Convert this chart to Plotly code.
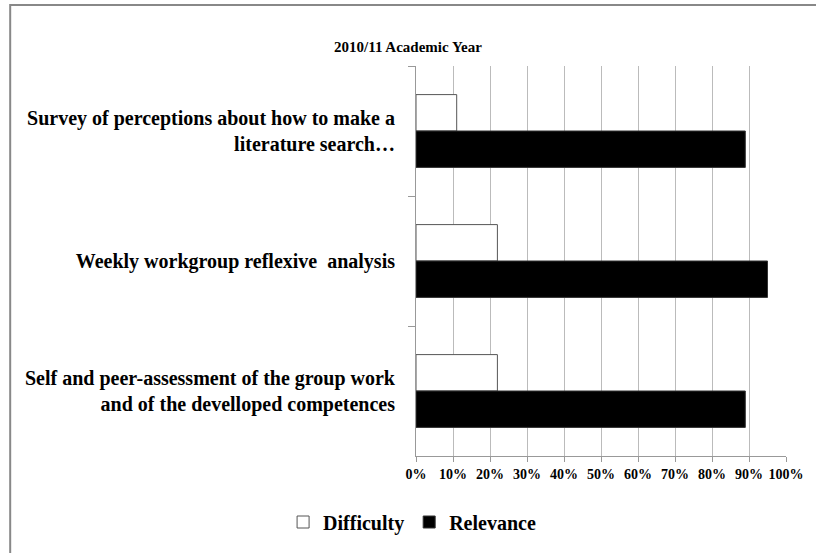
import plotly.graph_objects as go

categories = [
    "Survey of perceptions about how to make a<br>literature search\u2026",
    "Weekly workgroup reflexive  analysis",
    "Self and peer-assessment of the group work<br>and of the develloped competences",
]
difficulty = [0.11, 0.22, 0.22]
relevance = [0.89, 0.95, 0.89]
x_ticks = [i / 10 for i in range(11)]
x_tick_labels = [f"{i*10}%" for i in range(11)]

FONT = "Liberation Serif"

fig = go.Figure()
fig.add_trace(go.Bar(
    y=categories, x=difficulty, orientation="h", name="Difficulty",
    marker=dict(color="white", line=dict(color="#555555", width=1)),
))
fig.add_trace(go.Bar(
    y=categories, x=relevance, orientation="h", name="Relevance",
    marker=dict(color="black", line=dict(color="#333333", width=1)),
))

fig.update_layout(
    width=816, height=553,
    margin=dict(l=416, r=28, t=66, b=97),
    paper_bgcolor="white", plot_bgcolor="white",
    barmode="group", bargap=0.44, bargroupgap=0,
    font=dict(family=FONT, color="black", weight="bold"),
    title=dict(text="2010/11 Academic Year", x=0.5, xref="container", xanchor="center",
               y=1 - 47 / 553, yref="container", yanchor="middle",
               font=dict(family=FONT, size=15, color="black", weight="bold")),
    legend=dict(orientation="h", xref="container", x=0.505, xanchor="center",
                yref="container", y=1 - 522 / 553, yanchor="middle",
                font=dict(family=FONT, size=20, color="black", weight="bold"),
                itemwidth=30, traceorder="normal"),
    showlegend=True,
    shapes=[dict(type="rect", xref="paper", yref="paper",
                 x0=(8 - 416) / 372, x1=(830 - 416) / 372,
                 y0=(456 - 570) / 390, y1=(456 - 5) / 390,
                 line=dict(color="#888888", width=2), layer="below")],
)
fig.update_xaxes(
    range=[0, 1], tickvals=x_ticks, ticktext=x_tick_labels,
    showgrid=True, gridcolor="#BBBBBB", gridwidth=1,
    showline=True, linecolor="#999999", linewidth=1,
    ticks="outside", ticklen=5, tickcolor="#999999",
    tickfont=dict(family=FONT, size=14, color="black", weight="bold"),
    zeroline=False, fixedrange=True,
)
fig.update_yaxes(
    autorange="reversed", type="category",
    showline=True, linecolor="#999999", linewidth=1,
    ticks="outside", ticklen=7, tickcolor="#999999", tickson="boundaries",
    ticklabelstandoff=16,
    tickfont=dict(family=FONT, size=20, color="black", weight="bold"),
    showgrid=False, fixedrange=True,
)

fig.write_html("out.html", config={"displayModeBar": False},
               post_script="document.body.style.margin='0';document.body.style.overflow='hidden';")
